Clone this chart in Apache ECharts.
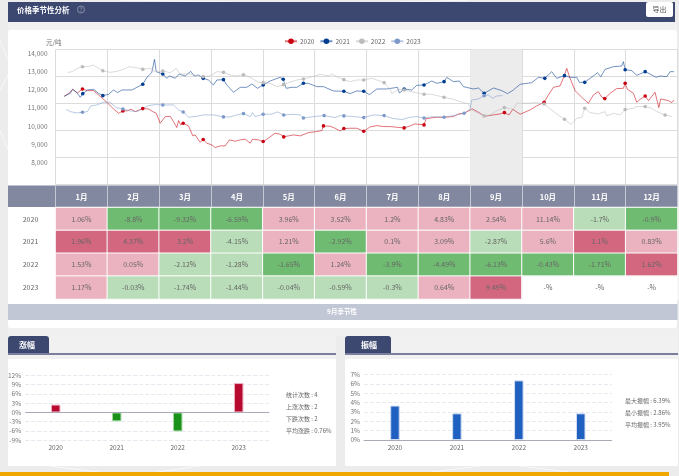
<!DOCTYPE html>
<html><head><meta charset="utf-8">
<style>html,body{margin:0;padding:0;background:#ececec;overflow:hidden}#c{width:679px;height:476px;filter:blur(0.35px)}</style>
<script src="https://cdn.jsdelivr.net/npm/echarts@6/dist/echarts.min.js"></script>
</head><body><div id="c"></div>
<script>
const months=['1月','2月','3月','4月','5月','6月','7月','8月','9月','10月','11月','12月'];
const years=['2020','2021','2022','2023'];
const yTickLabelsUnit='元/吨';
// day-of-year (30-day months) and price for each year
const days2020=[5,7.5,10,12.7,15.6,18.5,22,24.9,27.8,30.7,33.6,36.5,39,41.3,43.8,46.1,48.6,50.5,53.8,56.3,58.3,60.6,63.5,66.4,68.3,70.2,71.2,72.5,73.9,77,79.5,80.8,83.7,85.5,87.6,90.5,92.4,95.3,98.2,100.7,104,106.9,109.8,112.7,114,117.5,120.2,122.3,127.1,130,132.1,134.8,137.7,141.6,146.4,151.2,154.1,155.1,159,161.8,164.7,166.9,170.5,174.4,178.4,182.1,186,189.8,193.7,197.5,201.8,205.2,208.1,213.3,214.5,220.7,224.9,230.3,233.2,236.5,241.3,244.8,248.3,253.5,257.3,259.8,262.5,264.7,268.9,274.7,278.5,282.8,285.3,288.2,292,294.4,295.9,297.8,300.7,304.6,308.4,311.3,314.2,316.2,317.9,321,324.8,328.7,329.7,331,334.5,336.4,338.4,341.3,343.2,347,348,349.2,350.3,354.8,356.7,358];
const price2020=[11644,11792,12031,11828,12049,11957,11957,11718,11479,11221,10945,10706,10835,10835,10927,10798,10890,10964,10945,10798,10706,10154,10522,10540,10246,9915,10301,10062,10154,10007,9455,9510,9105,9252,9050,8958,8811,8903,8903,9234,9160,9234,9271,9050,9271,9234,9142,9271,9602,9547,9400,9455,9510,9455,9639,9694,9749,10007,9988,9878,9731,9860,9878,9878,9712,9952,10025,9970,9970,9933,9896,10007,10117,10062,10412,10485,10485,10522,10669,10706,10945,10761,10540,10614,10669,10743,10614,10927,10651,10890,11111,11313,11718,12141,12215,12767,13190,12638,11957,11589,11258,11718,11902,11589,11516,11810,12068,12086,12362,12031,11810,11313,11479,11663,11405,11865,11810,11019,11497,11405,11295,11442];
const marks2020=[15.6,39,50.5,73.9,85.5,120.2,132.1,155.1,166.9,178.4,201.8,213.3,259.8,282.8,317.9,329.7,341.3];
const days2021=[5,8.5,10,12.7,14.3,15.8,18.5,22,24.9,27.4,30.7,33.6,35.9,38.4,44.2,50.5,52.9,55.7,56.7,57.3,58.3,62.1,64.4,66,69.3,71.6,75,78.3,80.2,82.8,85.5,88.5,91.4,93.4,97.2,99.2,103,106.9,110.7,113.6,116.9,120.2,124.2,130,131.8,133.5,136.8,139.7,143.5,146.4,151.2,155.1,160.9,166.9,170.5,174.4,178.4,181.7,186,191.7,197.9,199.1,201.8,206.2,209.1,213.3,217.8,220.7,224.9,226.5,230.3,233.8,236.1,241.9,244.8,248.1,253.5,258.3,261.6,265,268.9,275.7,279.5,283.2,287.2,290.1,294.6,297.8,301.7,303.2,306.3,311.3,313.7,315.6,318.1,322.9,327.7,328.7,329.7,333.5,336.4,341.3,344.1,347.6,349.9,353.8,355.7,358];
const price2021=[11644,11810,12031,11810,11589,11792,11994,12031,11810,11681,11755,11994,11847,11994,11994,12307,12693,12951,13061,13687,13006,12877,12638,12767,12638,12877,12767,13024,12767,12822,12638,12546,12270,12546,12564,12270,11865,12141,12141,12325,12086,12270,12491,12693,12583,12086,12141,12141,12362,12362,12178,12178,11939,11920,11792,11939,11920,11736,12049,12049,12141,11828,12049,11994,12252,12270,12491,12362,12454,12693,12454,12491,12178,12049,12104,11810,12104,11957,11792,11994,12307,12399,12693,12638,13006,12638,12785,12693,12693,12417,12417,12767,12951,12730,13135,13282,13319,13558,13116,13061,12804,13006,12877,12693,12767,12730,13006,13006];
const marks2021=[15.8,27.4,50.5,62.1,85.5,97.2,120.2,131.8,143.5,166.9,178.4,201.8,213.3,224.9,248.1,283.2,294.6,306.3,329.7,341.3];
const days2022=[7.1,9.5,12.7,15.6,18.5,22,24.9,27.4,31.6,35.5,39.4,42.8,47.1,50.5,54.8,57.7,62.1,66.4,69.8,72.1,77.9,82.8,85.5,89.5,93.4,97.2,101.1,104.9,108.8,112.7,117.5,120.2,124.2,128.1,131.9,134.8,139.7,143.5,147.4,153.2,158,159.9,164.7,166.9,170.5,174.4,178.4,183.1,186,190.2,193.7,194.6,198.5,201.8,206.2,213.3,217.8,224.9,230.3,236.1,239,240.9,248.1,251.5,256.4,259.8,265,267,272.8,278.5,282.8,286.3,290.1,294.6,298.4,301.7,304.6,306.3,309.4,314.2,318.1,319.1,322.9,326.8,329.7,334.5,336.4,341.3,345.1,348,352.8,356.7];
const price2022=[12969,13006,13190,13282,13282,13374,13190,13061,12969,13024,13135,13282,13227,13135,13190,13006,13043,12951,13190,12877,12877,12767,12730,12767,13006,12969,12822,12767,12840,12693,12417,12399,12362,12178,12288,12399,12546,12601,12693,12859,12767,12877,12638,12564,12454,12546,12546,12638,12546,12399,12031,11810,12031,11994,11902,11755,11755,11589,11479,11295,11221,10890,10559,10614,10890,11019,10927,11258,11258,11295,11221,10945,10669,10375,10080,10430,10485,10982,10743,10669,10798,10559,10706,10614,10908,10982,11074,11074,10982,10798,10614,10522];
const marks2022=[15.6,27.4,50.5,62.1,85.5,97.2,108.8,120.2,131.9,143.5,166.9,178.4,190.2,201.8,213.3,224.9,248.1,259.8,282.8,294.6,306.3,329.7,341.3,352.8];
const days2023=[6.2,8.5,12.3,15.6,18.5,20.4,23.9,27.8,31.6,35.1,39,43.2,47.1,50.5,53.8,57.7,62.1,68.3,71.2,73.9,77,81.8,85.6,91.4,97.2,101.1,104.9,108.8,112.7,114,115.5,120.2,125.2,128.5,132.1,137.7,141.6,143.5,149.3,155.5,161.8,164.7,166.9,172.5,178.4,184,190.2,194.6,200.4,205.2,209.1,213.3,218.7,224.9,232.3,236.5,240,240.9,244.8,248.1,250.6,252.9,255.4,258.7];
const price2023=[10927,10798,10724,10761,10798,11111,11166,11313,11313,11019,10945,10835,10798,10964,11129,11184,11166,11166,10890,10780,10485,10540,10614,10614,10504,10504,10614,10688,10522,10743,10522,10651,10651,10780,10614,10651,10614,10448,10522,10577,10467,10577,10559,10522,10467,10614,10577,10430,10356,10485,10522,10448,10522,10485,10614,10706,10945,11442,11497,11681,11718,11534,11663,11681];
const marks2023=[15.6,39,62.1,73.9,97.2,108.8,120.2,132.1,143.5,155.5,166.9,178.4,190.2,213.3,224.9,236.5,248.1];
// monthly change table
const change2020=['1.06%','-8.8%','-9.32%','-6.59%','3.96%','3.52%','1.2%','4.83%','2.54%','11.14%','-1.7%','-0.9%'];
const change2021=['1.96%','4.37%','3.2%','-4.15%','1.21%','-2.92%','0.1%','3.09%','-2.87%','5.6%','1.1%','0.83%'];
const change2022=['1.53%','0.05%','-2.12%','-1.28%','-1.65%','1.24%','-3.9%','-4.49%','-6.13%','-0.43%','-1.71%','1.62%'];
const change2023=['1.17%','-0.03%','-1.74%','-1.44%','-0.04%','-0.59%','-0.3%','0.64%','9.49%','-%','-%','-%'];
const level2020=[1,3,3,3,1,1,1,1,1,1,2,3];
const level2021=[0,0,0,2,1,3,1,1,2,1,0,1];
const level2022=[1,1,2,2,3,1,3,3,3,3,3,0];
const level2023=[1,2,2,2,2,2,2,1,0,4,4,4];
const levelColors=['#d2677f','#ebb2c0','#b9ddb8','#70bb72','rgba(255,255,255,0)'];
const riseValues=[2.54,-2.87,-6.13,9.49];
const rangeValues=[3.69,2.86,6.39,2.86];
const riseStats=['统计次数 : 4','上涨次数 : 2','下跌次数 : 2','平均涨跌 : 0.76%'];
const rangeStats=['最大振幅 : 6.39%','最小振幅 : 2.86%','平均振幅 : 3.95%'];

const FONT='"Noto Sans CJK SC","Noto Sans",sans-serif';
const NAVY='#3d4870';
const chart=echarts.init(document.getElementById('c'),null,{renderer:'canvas'});
function lineSeries(name,days,price,marks,color){
  return {name,type:'line',xAxisIndex:1,yAxisIndex:1,data:days.map((d,i)=>[d,price[i]]),
    showSymbol:true,showAllSymbol:true,symbol:'circle',clip:false,
    symbolSize:v=>marks.includes(v[0])?3.6:0,
    itemStyle:{color},lineStyle:{color,width:1,opacity:0.55},emphasis:{disabled:true},z:3};
}
const changeRows=[change2020,change2021,change2022,change2023];
const levelRows=[level2020,level2021,level2022,level2023];
const heat=[];
changeRows.forEach((r,y)=>{
  r.forEach((t,x)=>heat.push({value:[x,y,parseFloat(t)||0],itemStyle:{color:levelColors[levelRows[y][x]]}}));
});
const rect=(x,y,w,h,fill,r)=>({type:'rect',zlevel:-1,silent:true,shape:{x,y,width:w,height:h,r:r||0},style:{fill}});
const text=(x,y,t,size,fill,extra)=>({type:'text',silent:true,z:20,style:Object.assign({x,y,text:t,fontSize:size,fill,fontFamily:FONT,verticalAlign:'middle'},extra||{})});
const facet=(pts)=>({type:'polyline',zlevel:-1,silent:true,shape:{points:pts},style:{stroke:'#f8f8f8',lineWidth:1,fill:null}});
const graphic=[
  rect(0,0,679,476,'#ececec'),
  facet([[0,40],[8,60]]),facet([[0,90],[8,75]]),facet([[0,130],[8,150]]),facet([[120,0],[230,2]]),facet([[400,2],[470,0]]),
  facet([[50,466],[130,476]]),facet([[130,476],[200,466]]),facet([[400,476],[480,466]]),facet([[520,466],[600,476]]),
  rect(8,22,669,8,'#f1f1f1'),
  rect(8,30,669,298,'#ffffff',2),
  rect(8,328,670,8,'#f0f0f0'),
  rect(8,336,328,130,'#f1f1f1'),
  rect(345,336,333,130,'#f1f1f1'),
  rect(8,2,667,20,NAVY),
  rect(646,2,27,15,'#ffffff',2),
  rect(8,185.5,669.5,21.5,'#82889f'),
  rect(8,304,669.5,16,'#c2c7d5'),
  rect(8,336,41,17,NAVY,[3,3,0,0]),
  rect(8,353,328,2,'#7a809c'),
  rect(345,336,46,17,NAVY,[3,3,0,0]),
  rect(345,353,333,2,'#7a809c'),
  rect(8,359,328,107,'#ffffff',2),
  rect(345,359,333,107,'#ffffff',2),
  rect(0,472,669,4,'#f0a800'),
  text(17,10,'价格季节性分析',7.5,'#ffffff',{fontWeight:'bold'}),
  {type:'circle',silent:true,z:20,shape:{cx:81,cy:9.5,r:3.5},style:{fill:'none',stroke:'#9aa0b8',lineWidth:0.8}},
  text(81,9.5,'?',5.5,'#9aa0b8',{align:'center'}),
  text(659.5,9.5,'导出',7,'#555555',{align:'center'}),
  text(46,42.7,yTickLabelsUnit,6.5,'#777777'),
  text(342,311.5,'9月季节性',6.5,'#ffffff',{align:'center',fontWeight:'bold'}),
  text(19,344.5,'涨幅',8,'#ffffff',{fontWeight:'bold'}),
  text(361,344.5,'振幅',8,'#ffffff',{fontWeight:'bold'})
];
riseStats.forEach((t,i)=>graphic.push(text(286,394.7+i*12,t,6,'#666666')));
rangeStats.forEach((t,i)=>graphic.push(text(625,400.7+i*12,t,6,'#666666')));

const hidden={axisLabel:{show:false},axisLine:{show:false},axisTick:{show:false},splitLine:{show:false}};
const dash={show:true,lineStyle:{color:'#e6e9f0',type:'dashed',width:1}};
const gridCol='#dcdcdc';
chart.setOption({
  animation:false,
  backgroundColor:'transparent',
  textStyle:{fontFamily:FONT},
  graphic:{elements:graphic},
  legend:{left:279,top:33,itemWidth:12,itemHeight:7,itemGap:5,data:years,
    textStyle:{fontSize:6.5,color:'#666',padding:[0,0,0,-2]},selectedMode:false},
  grid:[
    {left:55.5,top:49.5,width:622,height:135},
    {left:55.5,top:53.7,width:622,height:108.5},
    {left:55.5,top:207.5,width:622,height:91.5},
    {left:25.2,top:375.3,width:244,height:65},
    {left:364,top:374.7,width:247.7,height:65.3}
  ],
  xAxis:[
    {gridIndex:0,type:'value',min:0,max:360,interval:30,axisLabel:{show:false},axisLine:{show:false},axisTick:{show:false},splitLine:{show:true,lineStyle:{color:gridCol,width:1}}},
    Object.assign({gridIndex:1,type:'value',min:0,max:360},hidden),
    {gridIndex:2,type:'category',position:'top',data:months,axisLine:{show:false},
      axisTick:{show:true,length:21.5,lineStyle:{color:'#c5c8d4',width:1}},
      axisLabel:{color:'#ffffff',fontSize:7.5,fontWeight:'bold',margin:7},splitLine:{show:false}},
    {gridIndex:3,type:'category',data:years,axisLine:{show:false,onZero:false},axisTick:{show:false},axisLabel:{fontSize:6.5,color:'#666',margin:4}},
    {gridIndex:4,type:'category',data:years,axisLine:{show:true,lineStyle:{color:'#a8aab8'}},axisTick:{show:false},axisLabel:{fontSize:6.5,color:'#666',margin:4}}
  ],
  yAxis:[
    {gridIndex:0,type:'value',min:0,max:5,interval:1,axisLabel:{show:false},axisLine:{show:false},axisTick:{show:false},splitLine:{show:true,lineStyle:{color:gridCol,width:1}}},
    {gridIndex:1,type:'value',min:8000,max:14000,interval:1000,axisLine:{show:false},axisTick:{show:false},splitLine:{show:false},
      axisLabel:{fontSize:6.5,color:'#777',margin:8,formatter:v=>v.toLocaleString('en-US')}},
    {gridIndex:2,type:'category',inverse:true,data:years,axisLine:{show:false},axisTick:{show:false},
      axisLabel:{fontSize:7,color:'#666',align:'center',margin:25}},
    {gridIndex:3,type:'value',min:-9,max:12,interval:3,axisLine:{show:false},axisTick:{show:false},splitLine:dash,
      axisLabel:{fontSize:6.5,color:'#777',margin:4,formatter:'{value}%'}},
    {gridIndex:4,type:'value',min:0,max:7,interval:1,axisLine:{show:false},axisTick:{show:false},splitLine:dash,
      axisLabel:{fontSize:6.5,color:'#777',margin:4,formatter:'{value}%'}}
  ],
  series:[
    {type:'line',xAxisIndex:0,yAxisIndex:0,data:[],silent:true,z:1,
      markArea:{silent:true,itemStyle:{color:'#ececec'},data:[[{xAxis:240,yAxis:0},{xAxis:270,yAxis:5}]]}},
    lineSeries('2020',days2020,price2020,marks2020,'#c8000f'),
    lineSeries('2021',days2021,price2021,marks2021,'#003c90'),
    lineSeries('2022',days2022,price2022,marks2022,'#bbbbbb'),
    lineSeries('2023',days2023,price2023,marks2023,'#7e9aca'),
    {type:'heatmap',xAxisIndex:2,yAxisIndex:2,data:heat,silent:true,
      itemStyle:{borderColor:'#ffffff',borderWidth:1},
      label:{show:true,fontSize:7,color:'#666',formatter:p=>changeRows[p.value[1]][p.value[0]]}},
    {type:'bar',xAxisIndex:3,yAxisIndex:3,barWidth:9.5,silent:true,
      data:riseValues.map(v=>({value:v,itemStyle:{color:v>0?'#b8092f':'#1a9119',borderColor:v>0?'#eeb0c0':'#a5d8a5',borderWidth:1}})),
      markLine:{silent:true,symbol:'none',label:{show:false},lineStyle:{color:'#a8aab8',type:'solid',width:1},data:[{yAxis:0}]}},
    {type:'bar',xAxisIndex:4,yAxisIndex:4,barWidth:9.5,silent:true,data:rangeValues,
      itemStyle:{color:'#1f60c0',borderColor:'#cfdcf3',borderWidth:1}}
  ]
});
</script></body></html>
